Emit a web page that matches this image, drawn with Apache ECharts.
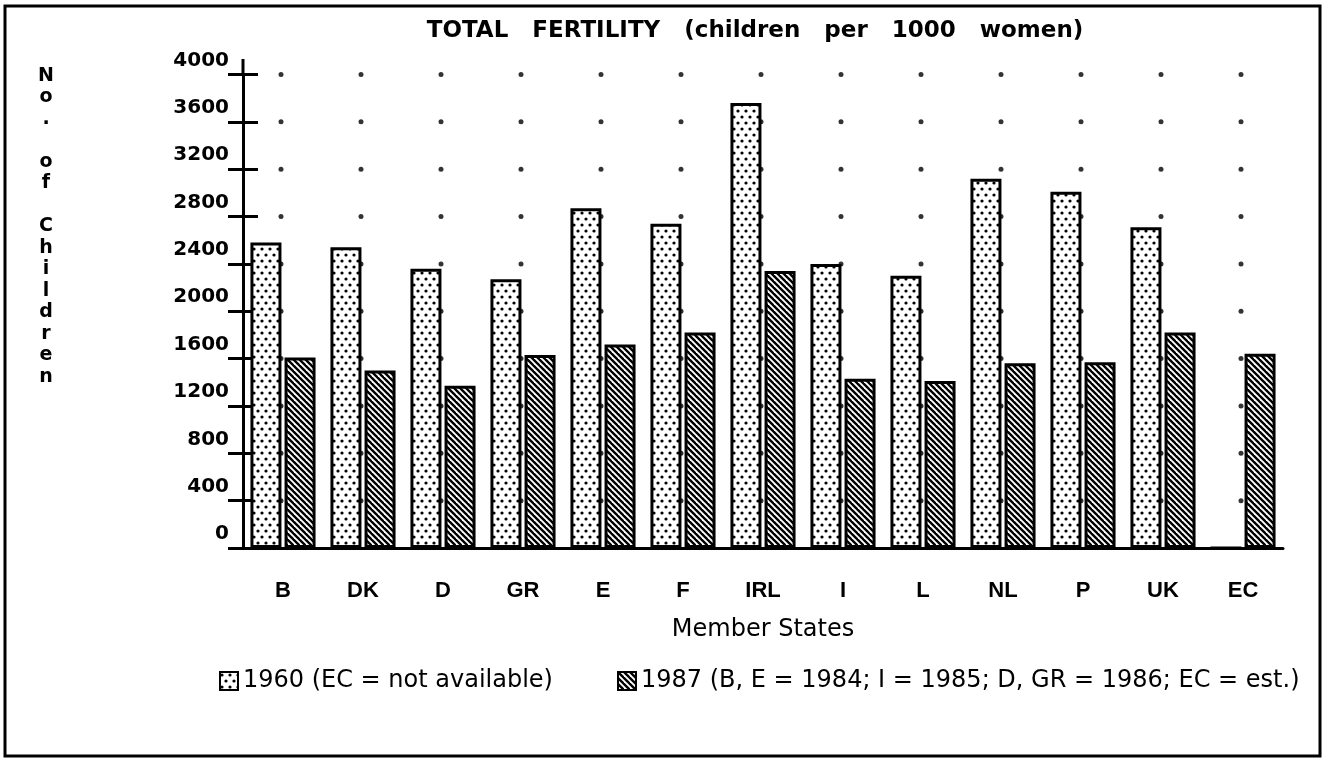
<!DOCTYPE html>
<html>
<head>
<meta charset="utf-8">
<script src="https://cdn.jsdelivr.net/npm/echarts/dist/echarts.min.js"></script>
<style>
  html, body { margin: 0; padding: 0; background: #fff; }
  #chart { width: 1325px; height: 759px; }
</style>
</head>
<body>
<div id="chart"></div>
<script>
  // member states on the x axis
  var states = ['B', 'DK', 'D', 'GR', 'E', 'F', 'IRL', 'I', 'L', 'NL', 'P', 'UK', 'EC']
  // children per 1000 women
  var fert1960 = [2580, 2540, 2360, 2270, 2870, 2740, 3760, 2400, 2300, 3120, 3010, 2710, 0]
  var fert1987 = [1610, 1500, 1370, 1630, 1720, 1820, 2340, 1430, 1410, 1560, 1570, 1820, 1640]
  // y axis tick values (also where the grid dots sit)
  var yTicks = [400, 800, 1200, 1600, 2000, 2400, 2800, 3200, 3600, 4000]

  var name1960 = '1960 (EC = not available)'
  var name1987 = '1987 (B, E = 1984; I = 1985; D, GR = 1986; EC = est.)'

  // fill patterns like the old printout
  function dotPattern() {
    var c = document.createElement('canvas')
    c.width = 8; c.height = 12
    var g = c.getContext('2d')
    g.fillStyle = '#fff'; g.fillRect(0, 0, 8, 12)
    g.fillStyle = '#000'
    ;[[2, 3], [6, 9]].forEach(function (p) {
      g.beginPath(); g.arc(p[0], p[1], 1.6, 0, Math.PI * 2); g.fill()
    })
    return c
  }
  function hatchPattern() {
    var c = document.createElement('canvas')
    c.width = 6; c.height = 6
    var g = c.getContext('2d')
    g.fillStyle = '#fff'; g.fillRect(0, 0, 6, 6)
    g.strokeStyle = '#000'; g.lineWidth = 2.4
    for (var k = -1; k <= 1; k++) {
      g.beginPath(); g.moveTo(k * 6 - 1, -1); g.lineTo(k * 6 + 7, 7); g.stroke()
    }
    return c
  }

  // grid dots: one per state per tick level
  var gridDots = []
  states.forEach(function (s) {
    yTicks.forEach(function (v) { gridDots.push([s, v]) })
  })

  var wide = 'DejaVu Sans'
  var chart = echarts.init(document.getElementById('chart'))
  chart.setOption({
    animation: false,
    backgroundColor: '#fff',
    title: [{
      text: 'TOTAL   FERTILITY   (children   per   1000   women)',
      left: 750,
      top: 15,
      textAlign: 'center',
      textStyle: { fontFamily: wide, fontWeight: 'bold', fontSize: 23, color: '#000' }
    }, {
      text: 'N\no\n.\n\no\nf\n\nC\nh\ni\nl\nd\nr\ne\nn',
      left: 41,
      top: 60,
      textAlign: 'center',
      textStyle: { fontFamily: wide, fontWeight: 'bold', fontSize: 19, lineHeight: 21.5, color: '#000' }
    }],
    legend: [{
      data: [name1960],
      left: 214, top: 664,
      icon: 'rect',
      itemWidth: 18, itemHeight: 18,
      textStyle: { fontFamily: wide, fontSize: 24, color: '#000' }
    }, {
      data: [name1987],
      left: 612, top: 664,
      icon: 'rect',
      itemWidth: 18, itemHeight: 18,
      textStyle: { fontFamily: wide, fontSize: 24, color: '#000' }
    }],
    grid: { left: 243, right: 42, top: 74.5, bottom: 211 },
    xAxis: {
      type: 'category',
      data: states,
      name: 'Member States',
      nameLocation: 'middle',
      nameGap: 70,
      nameTextStyle: { fontFamily: wide, fontSize: 24, color: '#000' },
      axisLine: { lineStyle: { color: '#000', width: 3 } },
      axisTick: { alignWithLabel: true, length: 15, lineStyle: { color: '#000', width: 3 } },
      axisLabel: { margin: 32, fontFamily: 'Liberation Sans', fontWeight: 'bold', fontSize: 22, color: '#000' },
      splitLine: { show: false }
    },
    yAxis: [{
      type: 'value',
      min: 0, max: 4000, interval: 400,
      axisLine: { show: true, lineStyle: { color: '#000', width: 3 } },
      axisTick: { show: true, length: 15, lineStyle: { color: '#000', width: 3 } },
      axisLabel: {
        margin: 14, verticalAlign: 'bottom', padding: [0, 0, 4, 0],
        fontFamily: wide, fontWeight: 'bold', fontSize: 20, color: '#000',
        formatter: function (v) { return String(v) }
      },
      splitLine: { show: false }
    }, {
      // second copy only for the inner half of the crossing ticks
      type: 'value',
      position: 'left',
      min: 0, max: 4000, interval: 400,
      axisLine: { show: false },
      axisTick: { show: true, inside: true, length: 15, lineStyle: { color: '#000', width: 3 } },
      axisLabel: { show: false },
      splitLine: { show: false }
    }],
    graphic: [{
      type: 'rect',
      shape: { x: 5, y: 6, width: 1315, height: 750 },
      style: { fill: 'none', stroke: '#000', lineWidth: 3 },
      z: -10
    }, {
      type: 'line',
      shape: { x1: 243, y1: 59, x2: 243, y2: 76 },
      style: { stroke: '#000', lineWidth: 3 }
    }],
    series: [{
      name: 'grid dots',
      type: 'scatter',
      data: gridDots,
      symbolSize: 5,
      symbolOffset: [-2, 0],
      itemStyle: { color: '#000' },
      silent: true,
      z: 1
    }, {
      name: name1960,
      type: 'bar',
      data: fert1960,
      barWidth: 31,
      barGap: '10%',
      itemStyle: {
        color: { image: dotPattern(), repeat: 'repeat' },
        borderColor: '#000', borderWidth: 3
      },
      z: 3
    }, {
      name: name1987,
      type: 'bar',
      data: fert1987,
      barWidth: 31,
      barGap: '10%',
      itemStyle: {
        color: { image: hatchPattern(), repeat: 'repeat' },
        borderColor: '#000', borderWidth: 3
      },
      z: 3
    }]
  })
</script>
</body>
</html>
